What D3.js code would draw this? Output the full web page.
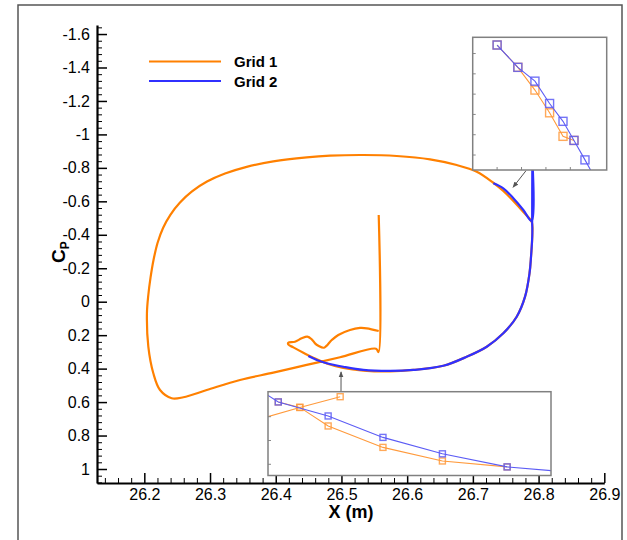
<!DOCTYPE html>
<html>
<head>
<meta charset="utf-8">
<script src="https://cdn.jsdelivr.net/npm/d3@7"></script>
<style>
body{margin:0;background:#fff;}
svg{display:block;font-family:"Liberation Sans",Arial,Helvetica,sans-serif;}
</style>
</head>
<body>
<script>
// Grid 1 surface pressure (orange)
var grid1X = [26.5567,26.5385,26.5283,26.5130,26.4952,26.4852,26.4735,26.4648,26.4598,26.4548,
  26.4481,26.4395,26.4293,26.4191,26.4191,26.4268,26.4420,26.4572,26.4776,26.5028,
  26.5333,26.5739,26.6094,26.6550,26.6906,26.7211,26.7463,26.7667,26.7794,26.7862,
  26.7885,26.7905,26.7896,26.7768,26.7616,26.7463,26.7311,26.7059,26.6754,26.6348,
  26.5841,26.5333,26.4826,26.4471,26.3963,26.3558,26.3228,26.2954,26.2726,26.2543,
  26.2399,26.2285,26.2201,26.2140,26.2094,26.2061,26.2040,26.2061,26.2137,26.2239,
  26.2417,26.2594,26.2950,26.3456,26.3963,26.4471,26.4978,26.5526,26.5564,26.5567];
var grid1Cp = [0.175,0.159,0.157,0.169,0.199,0.229,0.275,0.263,0.249,0.225,
  0.209,0.219,0.239,0.245,0.256,0.273,0.305,0.335,0.369,0.396,
  0.412,0.417,0.408,0.383,0.329,0.269,0.189,0.090,-0.030,-0.170,
  -0.269,-0.409,-0.476,-0.536,-0.602,-0.662,-0.711,-0.777,-0.817,-0.851,
  -0.871,-0.877,-0.873,-0.863,-0.839,-0.806,-0.766,-0.718,-0.659,-0.593,
  -0.521,-0.441,-0.351,-0.249,-0.142,-0.040,0.069,0.269,0.428,0.528,
  0.577,0.571,0.528,0.468,0.424,0.378,0.332,0.281,0.301,-0.518];

// Grid 2 surface pressure (blue)
var grid2X = [26.7311,26.7463,26.7616,26.7768,26.7896,26.7905,26.7902,26.7905,26.7885,26.7862,
  26.7794,26.7667,26.7463,26.7211,26.6906,26.6550,26.6094,26.5739,26.5333,26.5028,
  26.4776,26.4624,26.4496];
var grid2Cp = [-0.708,-0.678,-0.618,-0.548,-0.482,-0.847,-0.482,-0.409,-0.269,-0.170,
  -0.030,0.090,0.189,0.269,0.329,0.383,0.408,0.414,0.408,0.389,
  0.368,0.348,0.325];

// axis ticks
var xTicks = [26.2,26.3,26.4,26.5,26.6,26.7,26.8,26.9];
var xTickLabels = ['26.2','26.3','26.4','26.5','26.6','26.7','26.8','26.9'];
var yTicks = [-1.6,-1.4,-1.2,-1,-0.8,-0.6,-0.4,-0.2,0,0.2,0.4,0.6,0.8,1];
var yTickLabels = ['-1.6','-1.4','-1.2','-1','-0.8','-0.6','-0.4','-0.2','0','0.2','0.4','0.6','0.8','1'];

// zoom inset near upper trailing edge
var inset1Grid1X = [26.7520,26.7537,26.7551,26.7563,26.7574,26.7583];
var inset1Grid1Cp = [-0.7221,-0.7166,-0.7110,-0.7054,-0.6996,-0.6986];
var inset1Grid2X = [26.7520,26.7537,26.7551,26.7563,26.7574,26.7583,26.7592,26.7601];
var inset1Grid2Cp = [-0.7221,-0.7166,-0.7132,-0.7077,-0.7033,-0.6986,-0.6938,-0.6889];

// zoom inset near lower crossing
var inset2Grid1aX = [26.4549,26.4690,26.4804];
var inset2Grid1aCp = [0.3922,0.3861,0.3816];
var inset2Grid1bX = [26.4629,26.4690,26.4770,26.4925,26.5093,26.5276];
var inset2Grid1bCp = [0.3838,0.3861,0.3939,0.4029,0.4086,0.4111];
var inset2Grid2X = [26.4572,26.4629,26.4770,26.4925,26.5093,26.5276,26.5425];
var inset2Grid2Cp = [0.3784,0.3838,0.3897,0.3987,0.4056,0.4111,0.4130];

var orange = '#ff8000', blue = '#3030ff';
var orangeLight = '#ff9a3c', blueLight = '#5c5cf5';

var width = 627, height = 540;
var svg = d3.select('body').append('svg').attr('width', width).attr('height', height);

svg.append('rect').attr('x', 18).attr('y', 5).attr('width', 604).attr('height', 560)
  .attr('fill', 'none').attr('stroke', '#555').attr('stroke-width', 1.5);

var x = d3.scaleLinear().domain([26.128, 26.9]).range([97, 604.3]);
var y = d3.scaleLinear().domain([-1.654, 1.0837]).range([25, 483]);

function zip(xs, ys) { return xs.map(function(v, i) { return [v, ys[i]]; }); }

// minor ticks
var xMinor = d3.range(0, 39).map(function(i) { return +(26.14 + i * 0.02).toFixed(2); })
  .filter(function(v) { return Math.abs(v * 10 - Math.round(v * 10)) > 0.01; });
var yMinor = d3.range(0, 69).map(function(i) { return +(-1.64 + i * 0.04).toFixed(2); })
  .filter(function(v) { return Math.abs(v * 5 - Math.round(v * 5)) > 0.01; });

var gxm = svg.append('g').attr('transform', 'translate(0,483)')
  .call(d3.axisBottom(x).tickValues(xMinor).tickFormat('').tickSizeInner(-5).tickSizeOuter(0));
gxm.select('.domain').remove();
var gym = svg.append('g').attr('transform', 'translate(97,0)')
  .call(d3.axisLeft(y).tickValues(yMinor).tickFormat('').tickSizeInner(-5).tickSizeOuter(0));
gym.select('.domain').remove();

var gx = svg.append('g').attr('transform', 'translate(0,483)')
  .call(d3.axisBottom(x).tickValues(xTicks).tickFormat(function(d, i) { return xTickLabels[i]; })
    .tickSizeInner(-10).tickSizeOuter(0).tickPadding(6));
var gy = svg.append('g').attr('transform', 'translate(97,0)')
  .call(d3.axisLeft(y).tickValues(yTicks).tickFormat(function(d, i) { return yTickLabels[i]; })
    .tickSizeInner(-10).tickSizeOuter(0).tickPadding(7));

svg.selectAll('.tick line').attr('stroke', '#000').attr('stroke-width', 1.5);
[gxm, gym].forEach(function(g) { g.selectAll('.tick line').attr('stroke-width', 1); });
[gx, gy].forEach(function(g) {
  g.select('.domain').attr('stroke', '#000').attr('stroke-width', 2.2);
  g.selectAll('text').attr('font-size', 16).attr('fill', '#000')
    .attr('font-family', '"Liberation Sans",Arial,sans-serif');
});

svg.append('text').attr('x', 351).attr('y', 518).attr('text-anchor', 'middle')
  .attr('font-size', 18).attr('font-weight', 'bold').text('X (m)');
var yt = svg.append('text').attr('transform', 'translate(65,252) rotate(-90)')
  .attr('text-anchor', 'middle').attr('font-size', 19).attr('font-weight', 'bold');
yt.append('tspan').text('C');
yt.append('tspan').attr('font-size', 12).attr('dy', 4).text('P');

// curves
var line = d3.line().x(function(d) { return x(d[0]); }).y(function(d) { return y(d[1]); })
  .curve(d3.curveCatmullRom.alpha(0.5));
svg.append('path').attr('d', line(zip(grid1X, grid1Cp))).attr('fill', 'none')
  .attr('stroke', orange).attr('stroke-width', 2.2).attr('stroke-linejoin', 'round');
svg.append('path').attr('d', line(zip(grid2X, grid2Cp))).attr('fill', 'none')
  .attr('stroke', blue).attr('stroke-width', 2.2).attr('stroke-linejoin', 'round');

// legend
var legend = [['Grid 1', orange], ['Grid 2', blue]];
legend.forEach(function(l, i) {
  var ly = 61.5 + i * 19.5;
  svg.append('line').attr('x1', 149).attr('x2', 221).attr('y1', ly).attr('y2', ly)
    .attr('stroke', l[1]).attr('stroke-width', 2);
  svg.append('text').attr('x', 234).attr('y', ly + 5.5).attr('font-size', 15)
    .attr('font-weight', 'bold').text(l[0]);
});

// arrows
var defs = svg.append('defs');
defs.append('marker').attr('id', 'arr').attr('viewBox', '0 0 10 10').attr('refX', 9).attr('refY', 5)
  .attr('markerWidth', 6).attr('markerHeight', 6).attr('orient', 'auto')
  .append('path').attr('d', 'M0,1L10,5L0,9Z').attr('fill', '#555');

function arrow(x1, y1, dx, dy) {
  svg.append('line').attr('x1', x1).attr('y1', y1).attr('x2', x(dx)).attr('y2', y(dy))
    .attr('stroke', '#555').attr('stroke-width', 1).attr('marker-end', 'url(#arr)');
}
arrow(526, 170.7, 26.7611, -0.684);
arrow(341, 391.7, 26.4994, 0.420);

// insets
function inset(id, box, xd, yd, xt, yt2, series, ms) {
  var sx = d3.scaleLinear().domain(xd).range([box[0], box[0] + box[2]]);
  var sy = d3.scaleLinear().domain(yd).range([box[1], box[1] + box[3]]);
  defs.append('clipPath').attr('id', id).append('rect')
    .attr('x', box[0]).attr('y', box[1]).attr('width', box[2]).attr('height', box[3]);
  var g = svg.append('g');
  g.append('rect').attr('x', box[0]).attr('y', box[1]).attr('width', box[2]).attr('height', box[3])
    .attr('fill', '#fff');
  var gc = g.append('g').attr('clip-path', 'url(#' + id + ')');
  var ln = d3.line().x(function(d) { return sx(d[0]); }).y(function(d) { return sy(d[1]); });
  series.forEach(function(s) {
    var pts = zip(s[0], s[1]);
    gc.append('path').attr('d', ln(pts)).attr('fill', 'none').attr('stroke', s[2]).attr('stroke-width', 1.1);
    gc.selectAll(null).data(pts).enter().append('rect')
      .attr('x', function(d) { return sx(d[0]) - ms / 2; })
      .attr('y', function(d) { return sy(d[1]) - ms / 2; })
      .attr('width', ms).attr('height', ms)
      .attr('fill', 'none').attr('stroke', s[2]).attr('stroke-width', 1.4).attr('stroke-opacity', 0.85);
  });
  xt.forEach(function(v) {
    g.append('line').attr('x1', sx(v)).attr('x2', sx(v)).attr('y1', box[1] + box[3]).attr('y2', box[1] + box[3] - 3)
      .attr('stroke', '#888');
  });
  yt2.forEach(function(v) {
    g.append('line').attr('x1', box[0]).attr('x2', box[0] + 3).attr('y1', sy(v)).attr('y2', sy(v))
      .attr('stroke', '#888');
  });
  g.append('rect').attr('x', box[0]).attr('y', box[1]).attr('width', box[2]).attr('height', box[3])
    .attr('fill', 'none').attr('stroke', '#808080').attr('stroke-width', 1.5);
}

inset('clip1', [472.7, 37.3, 134, 132.7], [26.75, 26.76098], [-0.724, -0.69131],
  [26.752, 26.754, 26.756, 26.758], [-0.72, -0.715, -0.71, -0.705, -0.70, -0.695],
  [[inset1Grid1X, inset1Grid1Cp, orangeLight], [inset1Grid2X, inset1Grid2Cp, blueLight]], 8);

inset('clip2', [268, 391.7, 283, 83.8], [26.46, 26.54], [0.3795, 0.41471],
  [], [0.39, 0.40, 0.41],
  [[inset2Grid1aX, inset2Grid1aCp, orangeLight], [inset2Grid1bX, inset2Grid1bCp, orangeLight],
   [inset2Grid2X, inset2Grid2Cp, blueLight]], 6);
</script>
</body>
</html>
